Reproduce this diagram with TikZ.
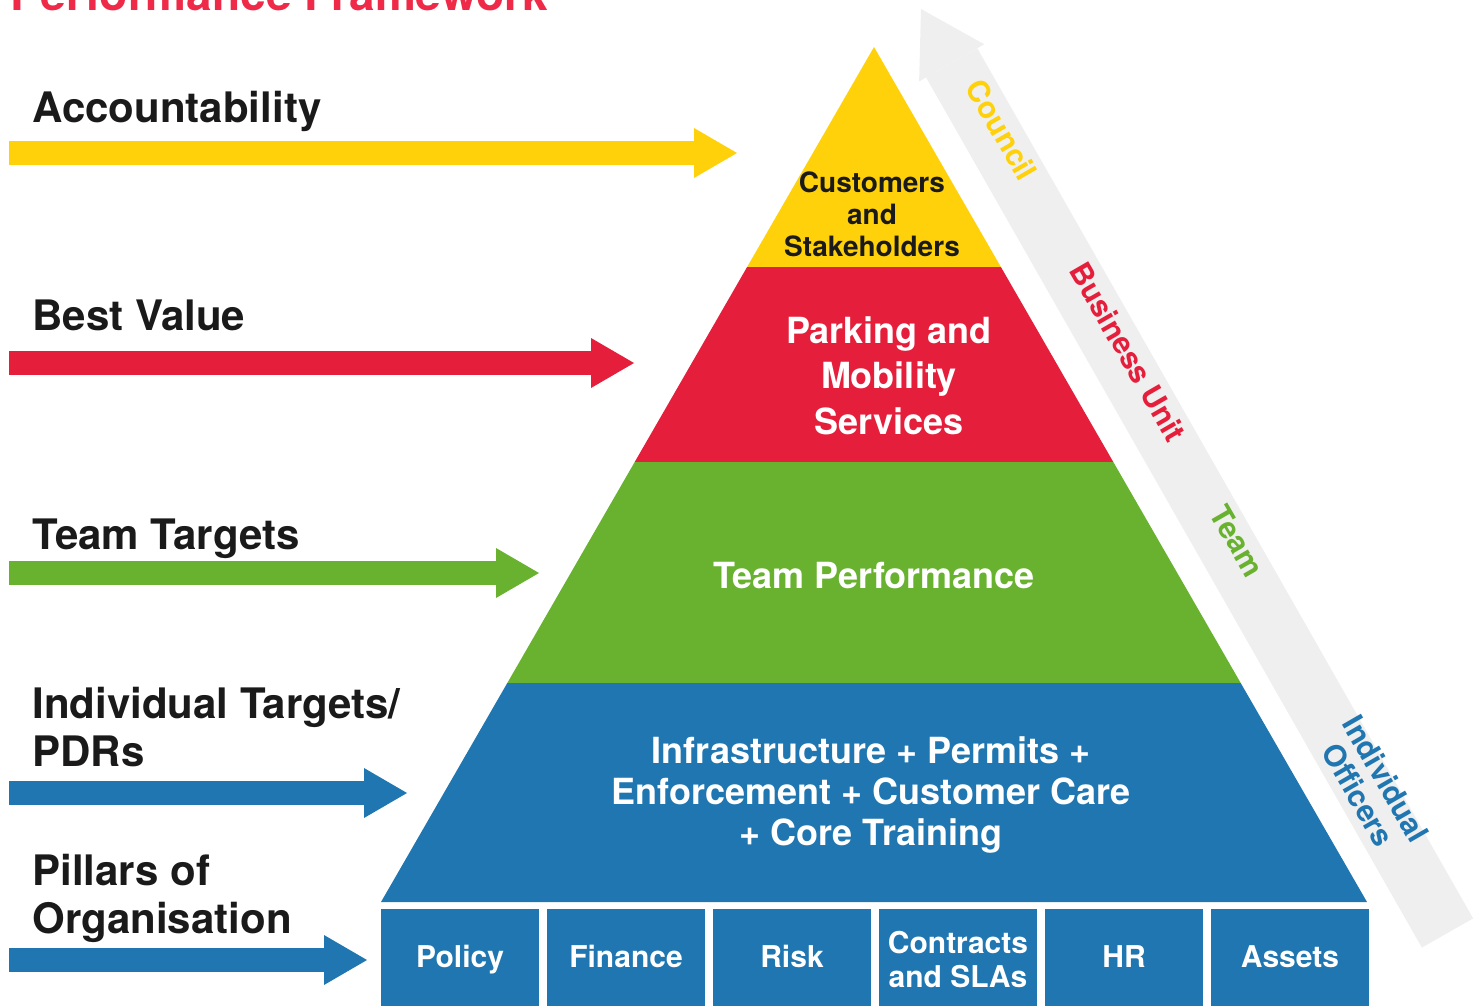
\documentclass[tikz,border=0pt]{standalone}
\usepackage{fontspec}
\setmainfont{TeX Gyre Heros}
\usepackage{tikz}
\usetikzlibrary{positioning,chains,arrows.meta}

\definecolor{pfyellow}{HTML}{FED10A}
\definecolor{pfred}{HTML}{E51F3B}
\definecolor{pfgreen}{HTML}{68B22F}
\definecolor{pfblue}{HTML}{1F76B0}
\definecolor{pfgrey}{HTML}{EFEFEF}
\definecolor{pftext}{HTML}{1A1A1A}
\definecolor{pftitle}{HTML}{EF2A48}

\tikzset{
	framework/.style={
		x=0.5pt, y=-0.5pt, % one unit is one pixel of the page
		font=\bfseries
	},
	band text/.style={
		align=center,
		inner sep=0pt,
		text=white,
		font=\bfseries\fontsize{18}{22.75}\selectfont
	},
	goal/.style={
		anchor=base west, % baseline of the last line
		inner sep=0pt,
		text=pftext,
		align=left,
		font=\bfseries\fontsize{21}{24}\selectfont
	},
	goal arrow/.style={
		draw=#1,
		line width=12pt,
		-{Triangle[length=21.5pt,width=25pt,line width=0pt]}
	},
	pillar/.style={
		rectangle,
		fill=pfblue,
		on chain,
		minimum width=78.6pt,
		minimum height=48.5pt,
		inner sep=0pt,
		text=white,
		align=center,
		text height=13pt, text depth=3.7pt, % same baseline in every pillar
		font=\bfseries\fontsize{15}{17}\selectfont
	},
	rank label/.style={
		rotate=-60,
		inner sep=0pt,
		text=#1,
		align=center,
		font=\bfseries\fontsize{15}{16}\selectfont
	}
}

\begin{document}
\begin{tikzpicture}[framework]
	\useasboundingbox (0,0) rectangle (1483,1006);
	% title, cut by the top of the page
	\node[goal, text=pftitle, font=\bfseries\fontsize{23}{27}\selectfont] (title) at (10,11) {Performance Framework};

	% rising arrow beside the pyramid
	\coordinate (rise-tail) at (1447.5,933);
	\coordinate (rise-tip) at (921,9);
	\draw[draw=pfgrey, line width=29.5pt, -{Triangle[length=31pt,width=37.5pt,line width=0pt]}] (rise-tail) -- (rise-tip);
	\node[rank label=pfyellow] (council) at (1002,130) {Council};
	\node[rank label=pfred] (unit) at (1128,352) {Business Unit};
	\node[rank label=pfgreen] (team-rank) at (1237,541) {Team};
	\node[rank label=pfblue] (officers) at (1372,787) {Individual\\Officers};

	% pyramid bands
	\fill[pfyellow] (874,47) -- (1000.9,267) -- (747.1,267) -- cycle;
	\fill[pfred] (747.1,267) -- (1000.9,267) -- (1113.3,462) -- (634.7,462) -- cycle;
	\fill[pfgreen] (634.7,462) -- (1113.3,462) -- (1240.7,683) -- (507.3,683) -- cycle;
	\fill[pfblue] (507.3,683) -- (1240.7,683) -- (1367,902) -- (381,902) -- cycle;
	\node[band text, text=pftext, font=\bfseries\fontsize{14}{16}\selectfont] (customers) at (872,214.5) {Customers\\and\\Stakeholders};
	\node[band text] (parking) at (889,375.5) {Parking and\\Mobility\\Services};
	\node[band text] (team) at (874,576) {Team Performance};
	\node[band text, font=\bfseries\fontsize{18}{20.5}\selectfont] (core) at (871,795) {Infrastructure + Permits +\\Enforcement + Customer Care\\+ Core Training};

	% pillars
	\begin{scope}[start chain, node distance=4pt]
		\node[pillar, anchor=north west] (policy) at (381,909) {Policy};
		\node[pillar] (finance) {Finance};
		\node[pillar] (risk) {Risk};
		\node[pillar, text height=33pt] (contracts) {Contracts\\and SLAs};
		\node[pillar] (hr) {HR};
		\node[pillar] (assets) {Assets};
	\end{scope}

	% goals on the left
	\node[goal] (accountability) at (32,123) {Accountability};
	\node[goal] (value) at (32,330) {Best Value};
	\node[goal] (targets) at (32,549) {Team Targets};
	\node[goal] (individual) at (32,766) {Individual Targets/\\PDRs};
	\node[goal] (pillars) at (32,933) {Pillars of\\Organisation};
	\coordinate (accountability-tail) at (9,153);
	\coordinate (value-tail) at (9,363);
	\coordinate (targets-tail) at (9,573);
	\coordinate (individual-tail) at (9,793);
	\coordinate (pillars-tail) at (9,960);
	\draw[goal arrow=pfyellow] (accountability-tail) -- (737,153);
	\draw[goal arrow=pfred] (value-tail) -- (634,363);
	\draw[goal arrow=pfgreen] (targets-tail) -- (539,573);
	\draw[goal arrow=pfblue] (individual-tail) -- (407,793);
	\draw[goal arrow=pfblue] (pillars-tail) -- (367,960);
\end{tikzpicture}
\end{document}
